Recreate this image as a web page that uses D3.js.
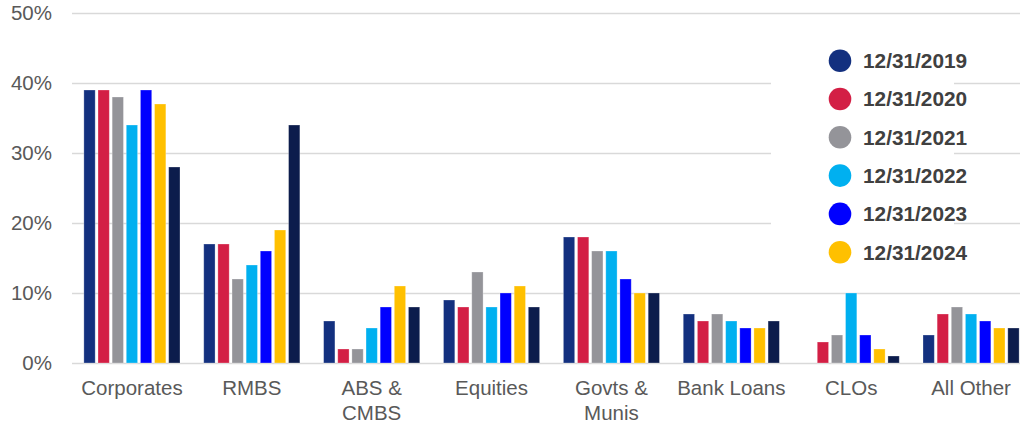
<!DOCTYPE html>
<html>
<head>
<meta charset="utf-8">
<script src="https://cdn.jsdelivr.net/npm/d3@7"></script>
<style>
  html, body { margin: 0; padding: 0; background: #fff; }
  svg { display: block; font-family: "Liberation Sans", Arial, sans-serif; }
</style>
</head>
<body>
<svg id="chart" width="1020" height="423"></svg>
<script>
// Portfolio allocation by asset class, year-end snapshots
const categories = ["Corporates", "RMBS", "ABS &\nCMBS", "Equities", "Govts &\nMunis", "Bank Loans", "CLOs", "All Other"];
const seriesNames = ["12/31/2019", "12/31/2020", "12/31/2021", "12/31/2022", "12/31/2023", "12/31/2024", "Latest"];
const legendNames = ["12/31/2019", "12/31/2020", "12/31/2021", "12/31/2022", "12/31/2023", "12/31/2024"];
const seriesColors = ["#13307f", "#d31f45", "#949499", "#00b0f0", "#0000ff", "#ffc000", "#0c1c4c"];

// Percent of portfolio, one array per series (same order as categories)
const v2019   = [39, 17, 6, 9, 18, 7, 0, 4];
const v2020   = [39, 17, 2, 8, 18, 6, 3, 7];
const v2021   = [38, 12, 2, 13, 16, 7, 4, 8];
const v2022   = [34, 14, 5, 8, 16, 6, 10, 7];
const v2023   = [39, 16, 8, 10, 12, 5, 4, 6];
const v2024   = [37, 19, 11, 11, 10, 5, 2, 5];
const vLatest = [28, 34, 8, 8, 10, 6, 1, 5];
const seriesValues = [v2019, v2020, v2021, v2022, v2023, v2024, vLatest];

const yTicks = [0, 10, 20, 30, 40, 50];

const svg = d3.select("#chart");
const plot = { left: 72, right: 1031, top: 13, bottom: 363 };

const x0 = d3.scaleBand().domain(categories).range([plot.left, plot.right]).paddingInner(0).paddingOuter(0);
const x1 = d3.scaleBand().domain(seriesNames).range([0, x0.bandwidth()]).paddingInner(0.2).paddingOuter(0.84);
const y = d3.scaleLinear().domain([0, 50]).range([plot.bottom, plot.top]);

// Gridlines and percentage labels
const yAxis = d3.axisLeft(y)
  .tickValues(yTicks)
  .tickFormat(d => d + "%")
  .tickSize(-(plot.right - plot.left))
  .tickPadding(20);

const gy = svg.append("g")
  .attr("transform", `translate(${plot.left},0)`)
  .call(yAxis);
gy.select(".domain").remove();
gy.selectAll(".tick line").attr("stroke", "#d9d9d9").attr("stroke-width", 1.6);
gy.selectAll(".tick text")
  .attr("fill", "#595959")
  .attr("font-size", 20.5)
  .attr("font-family", "Liberation Sans, Arial, sans-serif");

// Bars
const groups = svg.append("g").selectAll("g")
  .data(categories)
  .join("g")
  .attr("transform", d => `translate(${x0(d)},0)`);

groups.selectAll("rect")
  .data((c, ci) => seriesNames.map((s, si) => ({ s, si, v: seriesValues[si][ci] })).filter(d => d.v > 0))
  .join("rect")
  .attr("x", d => x1(d.s))
  .attr("width", x1.bandwidth())
  .attr("y", d => y(d.v))
  .attr("height", d => y(0) - y(d.v))
  .attr("fill", d => seriesColors[d.si])
  .attr("stroke", "#ffffff")
  .attr("stroke-opacity", 0.35)
  .attr("stroke-width", 0.8);

// Category labels (multi-line)
const xl = svg.append("g").selectAll("text")
  .data(categories)
  .join("text")
  .attr("x", d => x0(d) + x0.bandwidth() / 2)
  .attr("y", 395)
  .attr("text-anchor", "middle")
  .attr("fill", "#595959")
  .attr("font-size", 20.5);
xl.selectAll("tspan")
  .data(d => d.split("\n"))
  .join("tspan")
  .attr("x", function () { return d3.select(this.parentNode).attr("x"); })
  .attr("dy", (d, i) => i === 0 ? 0 : 25)
  .text(d => d);

// Legend
const legend = svg.append("g");
legend.append("rect")
  .attr("x", 771).attr("y", 30)
  .attr("width", 183).attr("height", 245)
  .attr("fill", "#ffffff");

const items = legend.selectAll("g.item")
  .data(legendNames)
  .join("g")
  .attr("class", "item")
  .attr("transform", (d, i) => `translate(840,${60.7 + i * 38.3})`);
items.append("circle")
  .attr("r", 11.3)
  .attr("fill", (d, i) => seriesColors[i]);
items.append("text")
  .attr("x", 23)
  .attr("y", 7.3)
  .attr("fill", "#404040")
  .attr("font-size", 20.8)
  .attr("font-weight", "bold")
  .text(d => d);
</script>
</body>
</html>
